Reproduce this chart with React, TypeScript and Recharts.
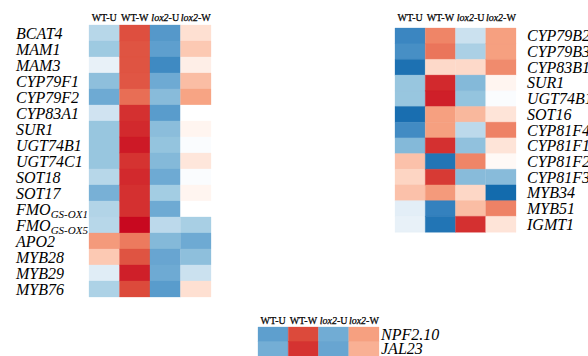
import React from "react";
import { Bar, BarChart, Cell, XAxis, YAxis } from "recharts";

const samples = ["WT-U", "WT-W", "lox2-U", "lox2-W"];

// left panel: aliphatic glucosinolate genes
const leftGenes = [
  "BCAT4", "MAM1", "MAM3", "CYP79F1", "CYP79F2", "CYP83A1", "SUR1", "UGT74B1", "UGT74C1",
  "SOT18", "SOT17", "FMO_GS-OX1", "FMO_GS-OX5", "APO2", "MYB28", "MYB29", "MYB76",
];
const leftWtU = [-0.3, -0.4, -0.1, -0.45, -0.55, -0.2, -0.42, -0.42, -0.42, -0.3, -0.52, -0.32, -0.3, 0.45, 0.25, -0.13, -0.34];
const leftWtW = [0.78, 0.76, 0.76, 0.75, 0.65, 0.88, 0.9, 0.95, 0.87, 0.9, 0.88, 0.88, 1.0, 0.6, 0.76, 0.93, 0.8];
const leftLoxU = [-0.64, -0.6, -0.73, -0.55, -0.47, -0.62, -0.46, -0.43, -0.48, -0.55, -0.38, -0.55, -0.28, -0.48, -0.57, -0.55, -0.62];
const leftLoxW = [0.15, 0.25, 0.08, 0.3, 0.4, 0, 0.05, -0.02, 0.12, -0.02, 0.05, 0, -0.36, -0.55, -0.45, -0.22, 0.15];

// right panel: indole glucosinolate genes
const rightGenes = [
  "CYP79B2", "CYP79B3", "CYP83B1", "SUR1", "UGT74B1", "SOT16", "CYP81F4",
  "CYP81F1", "CYP81F2", "CYP81F3", "MYB34", "MYB51", "IGMT1",
];
const rightWtU = [-0.75, -0.7, -0.9, -0.42, -0.42, -0.92, -0.72, -0.48, 0.28, 0.2, 0.28, -0.12, -0.1];
const rightWtW = [0.55, 0.62, 0.18, 0.9, 0.93, 0.42, 0.42, 0.88, -0.87, 0.85, 0.45, -0.78, -0.87];
const rightLoxU = [-0.22, -0.35, 0.18, -0.48, -0.43, 0.32, -0.28, -0.44, 0.55, -0.47, 0.19, 0.3, 0.88];
const rightLoxW = [0.42, 0.42, 0.52, 0.05, -0.02, 0.13, 0.56, 0.13, 0.03, -0.47, -0.95, 0.56, 0.13];

// bottom panel
const bottomGenes = ["NPF2.10", "JAL23"];
const bottomWtU = [-0.6, -0.53];
const bottomWtW = [0.8, 0.87];
const bottomLoxU = [-0.54, -0.57];
const bottomLoxW = [0.42, 0.35];

const stops: [number, string][] = [
  [-1.0, "#0a64a8"],
  [-0.8, "#2f7ebc"],
  [-0.6, "#5e9fce"],
  [-0.4, "#9ecae1"],
  [-0.2, "#d0e3f1"],
  [0.0, "#ffffff"],
  [0.2, "#fdd5c3"],
  [0.4, "#f7a484"],
  [0.6, "#ec7a5e"],
  [0.8, "#dc4a3b"],
  [1.0, "#c8081f"],
];

const hex = (c: string) => [1, 3, 5].map((i) => parseInt(c.slice(i, i + 2), 16));

function colorFor(v: number) {
  const t = Math.max(-1, Math.min(1, v));
  for (let i = 0; i < stops.length - 1; i++) {
    const [a, ca] = stops[i];
    const [b, cb] = stops[i + 1];
    if (t >= a && t <= b) {
      const f = (t - a) / (b - a);
      const x = hex(ca);
      const y = hex(cb);
      const rgb = x.map((n, k) => Math.round(n + (y[k] - n) * f));
      return `rgb(${rgb.join(",")})`;
    }
  }
  return stops[stops.length - 1][1];
}

const serif = "'Liberation Serif', 'Times New Roman', serif";

function GeneTick(props: any) {
  const { y, payload, labelX } = props;
  const [main, sub] = String(payload.value).split("_");
  return (
    <text x={labelX} y={y} dy={5.5} fontSize={16} fontStyle="italic" fontFamily={serif} fill="#000" textAnchor="start">
      {main}
      {sub && (
        <tspan fontSize={11} dy={3}>
          {sub}
        </tspan>
      )}
    </text>
  );
}

function HeaderTick(props: any) {
  const { x, payload, headerY } = props;
  const name = samples[Math.floor(payload.value)] ?? "";
  const isLox = name.startsWith("lox2");
  return (
    <text
      x={x}
      y={headerY}
      fontSize={10}
      fontFamily={serif}
      fill="#000"
      stroke="#000"
      strokeWidth={0.25}
      textAnchor="middle"
    >
      {isLox ? (
        <>
          <tspan fontStyle="italic">lox2</tspan>
          {name.slice(4)}
        </>
      ) : (
        name
      )}
    </text>
  );
}

type HeatmapProps = {
  genes: string[];
  columns: number[][];
  left: number;
  top: number;
  width: number;
  height: number;
  margin: { top: number; right: number; bottom: number; left: number };
  side: "left" | "right";
  axisWidth: number;
  headerHeight: number;
  headerY: number;
  labelX: number;
};

function Heatmap(p: HeatmapProps) {
  const data = p.genes.map((gene) => ({ gene, s0: 1, s1: 1, s2: 1, s3: 1 }));
  return (
    <div style={{ position: "absolute", left: p.left, top: p.top }}>
      <BarChart
        layout="vertical"
        data={data}
        width={p.width}
        height={p.height}
        margin={p.margin}
        barCategoryGap={0}
        barGap={0}
      >
        <XAxis
          type="number"
          orientation="top"
          domain={[0, 4]}
          ticks={[0.5, 1.5, 2.5, 3.5]}
          height={p.headerHeight}
          axisLine={false}
          tickLine={false}
          tick={<HeaderTick headerY={p.headerY} />}
          interval={0}
        />
        <YAxis
          type="category"
          dataKey="gene"
          orientation={p.side}
          width={p.axisWidth}
          axisLine={false}
          tickLine={false}
          interval={0}
          tick={<GeneTick labelX={p.labelX} />}
        />
        {p.columns.map((col, i) => (
          <Bar key={i} dataKey={`s${i}`} stackId="cells" isAnimationActive={false}>
            {col.map((v, j) => (
              <Cell key={j} fill={colorFor(v)} stroke={colorFor(v)} strokeWidth={0.3} />
            ))}
          </Bar>
        ))}
      </BarChart>
    </div>
  );
}

export default function App() {
  return (
    <div style={{ position: "absolute", left: 0, top: 0, width: 588, height: 356, background: "#fff", overflow: "hidden" }}>
      <Heatmap
        genes={leftGenes}
        columns={[leftWtU, leftWtW, leftLoxU, leftLoxW]}
        left={0}
        top={0}
        width={215}
        height={300}
        margin={{ top: 0, right: 4, bottom: 3, left: 0 }}
        side="left"
        axisWidth={89}
        headerHeight={25}
        headerY={20.5}
        labelX={16}
      />
      <Heatmap
        genes={rightGenes}
        columns={[rightWtU, rightWtW, rightLoxU, rightLoxW]}
        left={380}
        top={0}
        width={208}
        height={236}
        margin={{ top: 0, right: 0, bottom: 4, left: 15 }}
        side="right"
        axisWidth={72}
        headerHeight={28}
        headerY={21}
        labelX={147}
      />
      <Heatmap
        genes={bottomGenes}
        columns={[bottomWtU, bottomWtW, bottomLoxU, bottomLoxW]}
        left={240}
        top={300}
        width={230}
        height={56}
        margin={{ top: 0, right: 0, bottom: 0, left: 18 }}
        side="right"
        axisWidth={91}
        headerHeight={27}
        headerY={24}
        labelX={141}
      />
    </div>
  );
}
